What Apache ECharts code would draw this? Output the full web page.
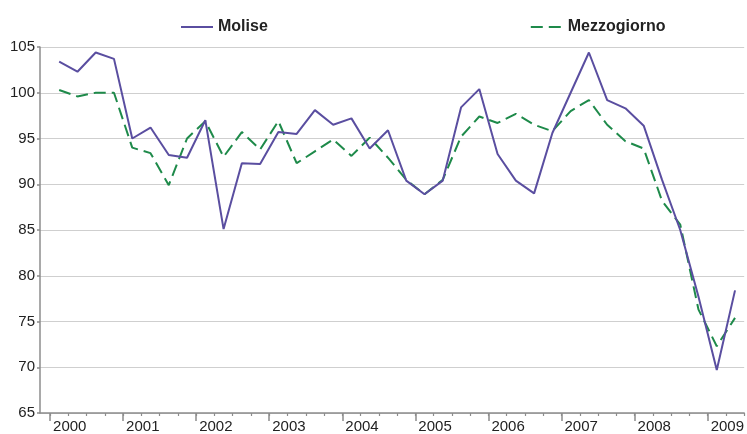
<!DOCTYPE html>
<html>
<head>
<meta charset="utf-8">
<script src="https://cdn.jsdelivr.net/npm/echarts@6/dist/echarts.min.js"></script>
<style>
  html, body { margin: 0; padding: 0; background: #fff; }
  #chart { width: 747px; height: 434px; }
</style>
</head>
<body>
<div id="chart"></div>
<script>
// anni (etichette asse x), una ogni 4 trimestri
const years = ['2000', '2001', '2002', '2003', '2004', '2005', '2006', '2007', '2008', '2009'];

// valori trimestrali 2000 T1 - 2009 T2
const molise = [
  103.4, 102.3, 104.4, 103.7,
  95.0, 96.2, 93.2, 92.9,
  97.0, 85.1, 92.3, 92.2,
  95.7, 95.5, 98.1, 96.5,
  97.2, 93.9, 95.9, 90.4,
  88.9, 90.4, 98.4, 100.4,
  93.3, 90.4, 89.0, 95.6,
  100.0, 104.4, 99.2, 98.3,
  96.4, 90.5, 85.0, 77.7,
  69.7, 78.4
];
const mezzogiorno = [
  100.3, 99.6, 100.0, 100.0,
  94.0, 93.4, 89.9, 95.0,
  96.9, 93.0, 95.7, 93.8,
  96.9, 92.3, 93.6, 94.9,
  93.1, 95.1, 92.9, 90.5,
  88.9, 90.5, 95.2, 97.4,
  96.7, 97.7, 96.5, 95.8,
  98.0, 99.2, 96.5, 94.7,
  93.9, 88.2, 85.6, 76.3,
  72.3, 75.4
];

// posizione di ogni trimestre al centro del suo intervallo
const toPoints = arr => arr.map((v, i) => [i + 0.5, v]);
const yearTicks = years.map((y, i) => i * 4);
const quarterTicks = Array.from({ length: molise.length + 1 }, (_, i) => i);

const chart = echarts.init(document.getElementById('chart'));

const axisGray = '#8c8c8c';
const font = 'Liberation Sans, Arial, sans-serif';

chart.setOption({
  backgroundColor: '#fff',
  animation: false,
  legend: {
    left: 175,
    top: 14,
    itemWidth: 32,
    itemHeight: 14,
    itemGap: 262,
    itemStyle: { opacity: 0 },
    textStyle: { fontFamily: font, fontSize: 16, fontWeight: 'bold', color: '#222' },
    data: ['Molise', 'Mezzogiorno']
  },
  grid: { left: 40, right: 1, top: 47, bottom: 21, containLabel: false },
  xAxis: [
    {
      type: 'value',
      min: -0.55,
      max: 38,
      splitLine: { show: false },
      axisLine: { onZero: false, lineStyle: { color: axisGray, width: 1.5 } },
      axisTick: { customValues: yearTicks, length: 8, lineStyle: { color: axisGray, width: 1.5 } },
      axisLabel: {
        customValues: yearTicks,
        formatter: v => years[Math.round(v / 4)],
        align: 'left',
        padding: [0, 0, 0, 3],
        margin: 6,
        fontFamily: font,
        fontSize: 15,
        color: '#222'
      }
    },
    {
      type: 'value',
      min: -0.55,
      max: 38,
      position: 'bottom',
      splitLine: { show: false },
      axisLine: { show: false, onZero: false },
      axisTick: { customValues: quarterTicks, length: 3, lineStyle: { color: axisGray, width: 1.2 } },
      axisLabel: { show: false }
    }
  ],
  yAxis: {
    type: 'value',
    min: 65,
    max: 105,
    interval: 5,
    axisLine: { show: true, onZero: false, lineStyle: { color: axisGray, width: 1.5 } },
    axisTick: { show: true, length: 3, lineStyle: { color: axisGray, width: 1.5 } },
    axisLabel: { margin: 5, fontFamily: font, fontSize: 15, color: '#222' },
    splitLine: { lineStyle: { color: '#cfcfcf', width: 1.2 } }
  },
  series: [
    {
      name: 'Molise',
      type: 'line',
      data: toPoints(molise),
      symbol: 'none',
      lineStyle: { color: '#5a4ea0', width: 2 },
      itemStyle: { color: '#5a4ea0' },
      z: 3
    },
    {
      name: 'Mezzogiorno',
      type: 'line',
      data: toPoints(mezzogiorno),
      symbol: 'none',
      lineStyle: { color: '#1e8a4a', width: 2, type: [12, 6] },
      itemStyle: { color: '#1e8a4a' },
      z: 2
    }
  ]
});
</script>
</body>
</html>
